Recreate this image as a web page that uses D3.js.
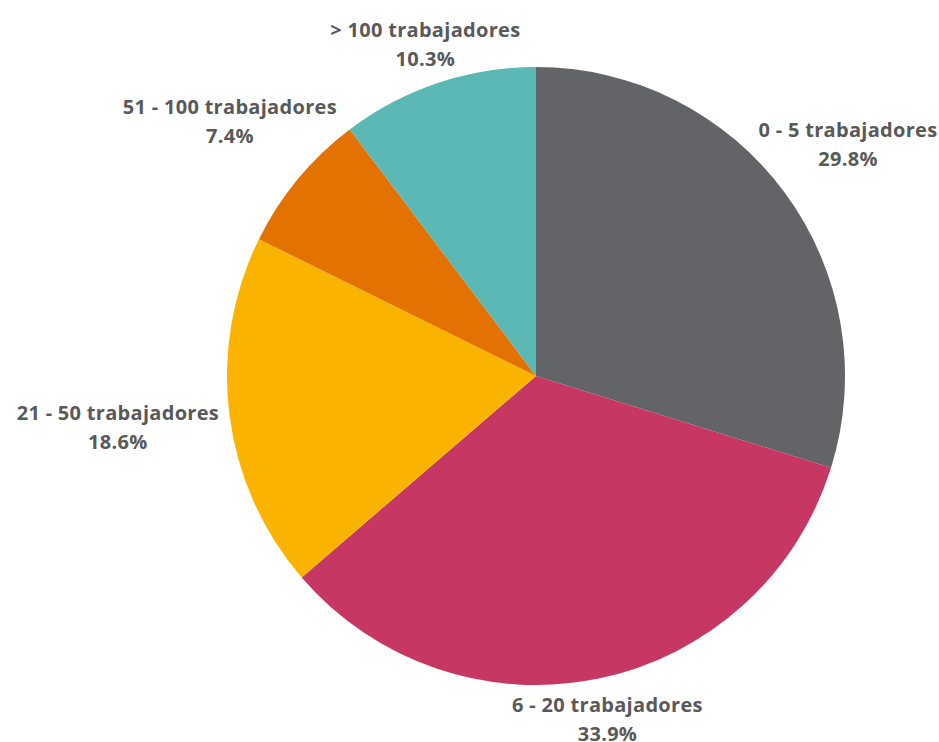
<!DOCTYPE html>
<html>
<head>
	<meta charset="utf-8">
	<title>trabajadores</title>
	<style>
	body { margin: 0; background: #fff; }
	.label {
		font-family: "Open Sans", Lato, sans-serif;
		font-weight: 700;
		font-size: 20px;
		letter-spacing: 0.3px;
		fill: #595959;
		text-anchor: middle;
		dominant-baseline: middle;
	}
	</style>
	<script src="https://d3js.org/d3.v7.min.js"></script>
</head>
<body>
	<script type="text/javascript">
		// datos
		var categories = ['0 - 5 trabajadores', '6 - 20 trabajadores', '21 - 50 trabajadores', '51 - 100 trabajadores', '> 100 trabajadores'];
		var values = [29.8, 33.9, 18.6, 7.4, 10.3];
		var colors = ['#636467', '#C73764', '#FAB400', '#E47200', '#5BB8B4'];

		var width = 939, height = 742;
		var cx = 536, cy = 376, radius = 309;
		var lineHeight = 29;

		var svg = d3.select('body').append('svg')
			.attr('width', width)
			.attr('height', height);

		var data = categories.map(function (c, i) {
			return { name: c, value: values[i], color: colors[i] };
		});

		var pie = d3.pie()
			.sort(null)
			.value(function (d) { return d.value; });

		var arc = d3.arc().innerRadius(0).outerRadius(radius);

		var arcs = pie(data);

		var g = svg.append('g').attr('transform', 'translate(' + cx + ',' + cy + ')');

		// sectores
		g.selectAll('path')
			.data(arcs)
			.enter()
			.append('path')
			.attr('d', arc)
			.attr('fill', function (d) { return d.data.color; });

		// etiquetas
		var labels = g.selectAll('g.lbl')
			.data(arcs)
			.enter()
			.append('g')
			.attr('class', 'lbl');

		labels.append('text')
			.attr('class', 'label')
			.attr('y', -lineHeight / 2)
			.text(function (d) { return d.data.name; });

		labels.append('text')
			.attr('class', 'label')
			.attr('y', lineHeight / 2)
			.text(function (d) { return d3.format('.1f')(d.data.value) + '%'; });

		// colocar la caja de texto fuera del círculo (alcance elíptico de la caja)
		labels.attr('transform', function (d) {
			var a = (d.startAngle + d.endAngle) / 2;
			var s = Math.sin(a), c = Math.cos(a);
			var bb = this.getBBox();
			var hw = bb.width / 2, hh = 25;
			var reach = Math.sqrt(Math.pow(hw * s, 2) + Math.pow(hh * c, 2));
			// las de arriba quedan algo más pegadas al círculo
			var gap = 12 - 12 * Math.max(c, 0);
			var d0 = radius + gap + reach;
			var x = s * d0, y = -c * d0;
			// no salir del lienzo
			x = Math.min(x, width - cx - hw - 1);
			x = Math.max(x, -cx + hw + 1);
			return 'translate(' + x + ',' + y + ')';
		});
	</script>
</body>
</html>
